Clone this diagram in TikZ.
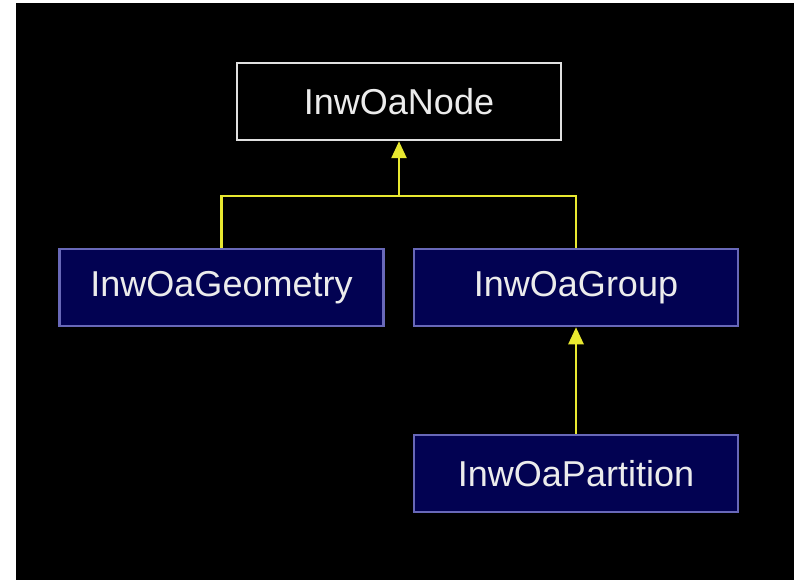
\documentclass[tikz,border=0pt]{standalone}
\usepackage{fontspec}
\setmainfont{Liberation Sans}
\usetikzlibrary{arrows.meta}
\definecolor{navyfill}{RGB}{2,2,82}
\definecolor{navyedge}{RGB}{104,104,184}
\definecolor{linkyellow}{RGB}{232,232,48}
\definecolor{labelgray}{RGB}{236,236,236}
\begin{document}
\begin{tikzpicture}[x=1pt,y=-1pt,
  classbox/.style={rectangle,minimum width=324pt,minimum height=77pt,inner sep=0pt,
    line width=2.5pt,text=labelgray,font=\fontsize{36}{40}\selectfont},
  rootbox/.style={classbox,draw=white!88!black,fill=black},
  subbox/.style={classbox,draw=navyedge,fill=navyfill},
  link/.style={draw=linkyellow,line width=2.6pt},
  inherit/.style={link,-{Triangle[length=17pt,width=15pt]}}]
  % page and canvas
  \useasboundingbox (0,0) rectangle (794,580);
  \fill[white] (0,0) rectangle (794,580);
  \fill[black] (16,3) rectangle (794,580);
  % classes
  \node[rootbox] (node) at (399,101.5) {InwOaNode};
  \node[subbox] (geometry) at (221.5,287.5) {InwOaGeometry};
  \node[subbox] (group) at (576,287.5) {InwOaGroup};
  \node[subbox] (partition) at (576,473.5) {InwOaPartition};
  % inheritance links
  \coordinate (bus) at (399,196);
  \draw[link] (geometry.north) |- (bus) -| (group.north);
  \draw[inherit] (bus) -- (node.south);
  \draw[inherit] (partition.north) -- (group.south);
\end{tikzpicture}
\end{document}
